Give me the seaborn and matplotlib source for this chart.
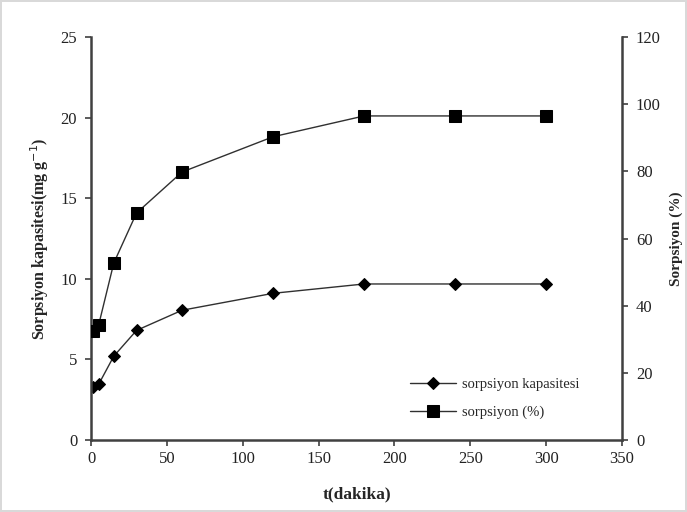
import matplotlib
matplotlib.use('Agg')
import matplotlib.pyplot as plt
import seaborn as sns
import pandas as pd

time_min = [1, 5, 15, 30, 60, 120, 180, 240, 300]
capacity = [3.3, 3.45, 5.2, 6.8, 8.05, 9.1, 9.68, 9.68, 9.68]
sorption_pct = [32.5, 34.2, 52.7, 67.6, 79.8, 90.3, 96.5, 96.5, 96.5]

df = pd.DataFrame({'t': time_min, 'q': capacity, 'pct': sorption_pct})

sns.set_style('white')
plt.rcParams['font.family'] = ['Liberation Serif', 'DejaVu Serif']

fig = plt.figure(figsize=(6.87, 5.12), dpi=100,
                 edgecolor='#d9d9d9', linewidth=1.5)
ax = fig.add_axes([0.1325, 0.1406, 0.7729, 0.7871])
ax2 = ax.twinx()

sns.lineplot(data=df, x='t', y='q', ax=ax, color='#303030', linewidth=1,
             marker='D', markersize=6.5, markeredgecolor='black',
             markerfacecolor='black', label='sorpsiyon kapasitesi',
             legend=False)
sns.lineplot(data=df, x='t', y='pct', ax=ax2, color='#303030', linewidth=1,
             marker='s', markersize=9, markeredgecolor='black',
             markerfacecolor='black', label='sorpsiyon (%)', legend=False)

ax.set_xlim(0, 350)
ax.set_ylim(0, 25)
ax2.set_ylim(0, 120)
ax.set_xticks(range(0, 351, 50))
ax.set_yticks(range(0, 26, 5))
ax2.set_yticks(range(0, 121, 20))

for a in (ax, ax2):
    for s in a.spines.values():
        s.set_visible(False)
    a.tick_params(labelsize=12, length=4, width=1.2, color='#404040',
                  labelcolor='#222222')
ax.spines['left'].set_visible(True)
ax.spines['bottom'].set_visible(True)
ax2.spines['right'].set_visible(True)
for s in (ax.spines['left'], ax.spines['bottom'], ax2.spines['right']):
    s.set_color('#404040')
    s.set_linewidth(1.8)
ax.tick_params(axis='x', bottom=True, direction='out', pad=4)
ax.tick_params(axis='y', left=True, direction='out', pad=6)
ax2.tick_params(axis='y', right=True, direction='out', pad=6)

ax.set_xlabel('t(dakika)', fontsize=12.5, fontweight='bold', labelpad=14)
ax.set_ylabel('Sorpsiyon kapasitesi(mg g$^{-1}$)', fontsize=11.5,
              fontweight='bold', labelpad=7)
ax2.set_ylabel('Sorpsiyon (%)', fontsize=11, fontweight='bold', labelpad=6)

h1, l1 = ax.get_legend_handles_labels()
h2, l2 = ax2.get_legend_handles_labels()
ax2.legend(h1 + h2, l1 + l2, loc='lower right', frameon=False,
           fontsize=10.5, bbox_to_anchor=(0.945, 0.02), handlelength=3.2,
           labelspacing=1.0, handletextpad=0.4)

fig.savefig('out.png', dpi=100, edgecolor=fig.get_edgecolor())
